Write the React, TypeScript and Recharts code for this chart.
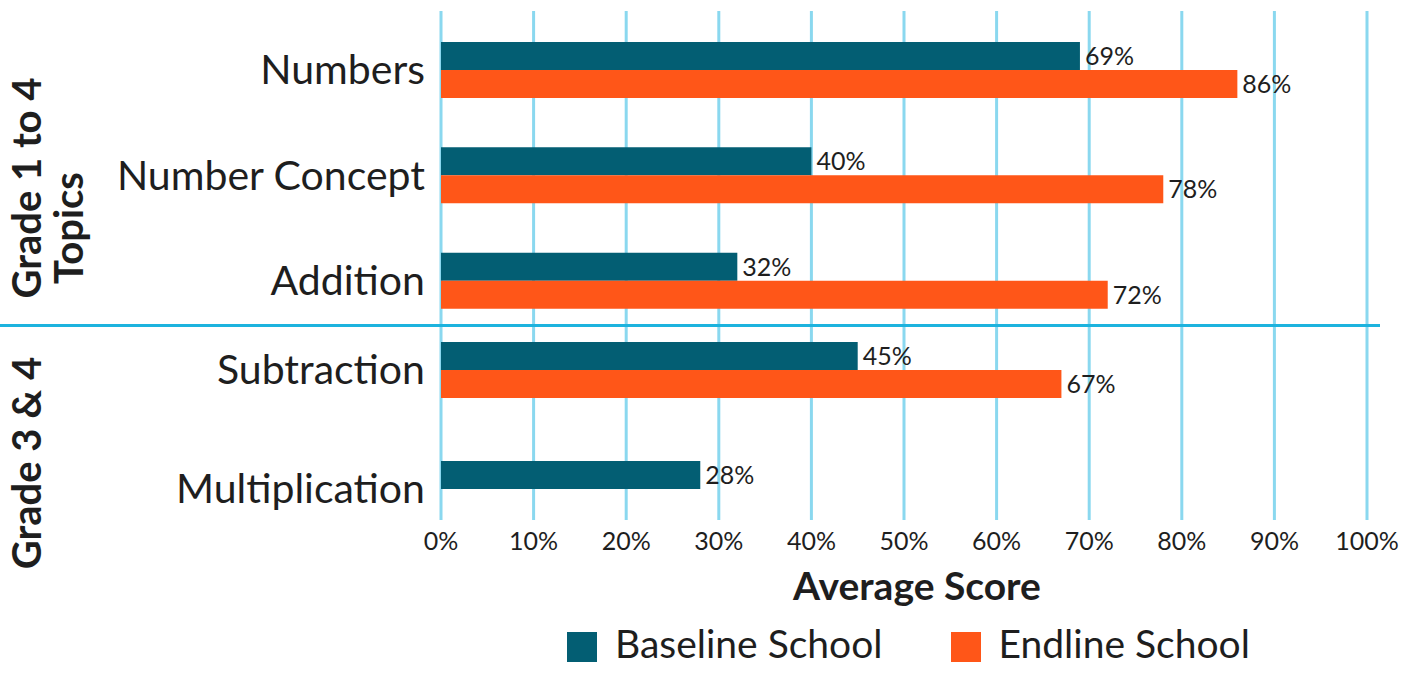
import React from 'react';
import { BarChart, Bar, XAxis, YAxis, CartesianGrid, LabelList, Legend, Label } from 'recharts';

// Grade 1 to 4 topics
const topicsA = ['Numbers', 'Number Concept', 'Addition'];
const baselineA = [69, 40, 32];
const endlineA = [86, 78, 72];

// Grade 3 & 4 topics
const topicsB = ['Subtraction', 'Multiplication'];
const baselineB = [45, 28];
const endlineB: (number | null)[] = [67, null];

const xTicks = [0, 10, 20, 30, 40, 50, 60, 70, 80, 90, 100];

const TEAL = '#035e73';
const ORANGE = '#ff5618';
const GRID = '#8ad8ef';
const SEP = '#1cb3de';
const TEXT = '#1e1e1e';
const FONT = 'Lato, sans-serif';

const W = 1423;
const H = 673;

const dataA = topicsA.map((topic, i) => ({ topic, baseline: baselineA[i], endline: endlineA[i] }));
const dataB = topicsB.map((topic, i) => ({ topic, baseline: baselineB[i], endline: endlineB[i] }));

const pct = (v: any) => (v == null ? '' : `${v}%`);
const barLabelStyle = { fontSize: 25, fill: TEXT, fontFamily: FONT };
const catTick = { fontSize: 41, fill: TEXT, fontFamily: FONT };

const rotated = (text: string, cx: number, cy: number) => (
  <div
    style={{
      position: 'absolute',
      left: cx,
      top: cy,
      transform: 'translate(-50%, -50%) rotate(-90deg)',
      whiteSpace: 'nowrap',
      fontFamily: FONT,
      fontWeight: 700,
      fontSize: 40,
      lineHeight: 1,
      color: TEXT,
    }}
  >
    {text}
  </div>
);

export default function App() {
  return (
    <div style={{ position: 'absolute', left: 0, top: 0, width: W, height: H, background: '#fff', fontFamily: FONT }}>
      {/* upper group + grid, axis and legend */}
      <div style={{ position: 'absolute', left: 0, top: 0 }}>
        <BarChart
          width={W}
          height={H}
          data={dataA}
          layout="vertical"
          margin={{ top: 11, right: 56, bottom: 113, left: 0 }}
          barCategoryGap={25}
          barGap={0}
        >
          <CartesianGrid horizontal={false} stroke={GRID} strokeWidth={3} />
          <XAxis
            type="number"
            domain={[0, 100]}
            ticks={xTicks}
            tickFormatter={(v) => `${v}%`}
            axisLine={false}
            tickLine={false}
            tickMargin={6}
            height={40}
            tick={{ fontSize: 25, fill: TEXT, fontFamily: FONT }}
          >
            <Label
              value="Average Score"
              position="bottom"
              offset={12}
              dx={13}
              style={{ fontSize: 39, fontWeight: 700, fill: TEXT, fontFamily: FONT }}
            />
          </XAxis>
          <YAxis
            type="category"
            dataKey="topic"
            width={441}
            axisLine={false}
            tickLine={false}
            tickMargin={10}
            padding={{ top: 6, bottom: 187 }}
            tick={catTick}
          />
          <Bar dataKey="baseline" name="Baseline School" fill={TEAL} isAnimationActive={false}>
            <LabelList dataKey="baseline" position="right" offset={5} formatter={pct} style={barLabelStyle} />
          </Bar>
          <Bar dataKey="endline" name="Endline School" fill={ORANGE} isAnimationActive={false}>
            <LabelList dataKey="endline" position="right" offset={5} formatter={pct} style={barLabelStyle} />
          </Bar>
          <Legend
            layout="horizontal"
            verticalAlign="middle"
            align="center"
            iconType="square"
            iconSize={30}
            wrapperStyle={{ left: 567, top: 617, width: 'auto', fontFamily: FONT, whiteSpace: 'nowrap' }}
            formatter={(value) => (
              <span
                style={{
                  color: TEXT,
                  fontSize: 39,
                  lineHeight: 1,
                  marginLeft: 14,
                  marginRight: 58,
                  position: 'relative',
                  top: 7,
                }}
              >
                {value}
              </span>
            )}
          />
        </BarChart>
      </div>

      {/* lower group */}
      <div style={{ position: 'absolute', left: 0, top: 0, pointerEvents: 'none' }}>
        <BarChart
          width={W}
          height={H}
          data={dataB}
          layout="vertical"
          margin={{ top: 310, right: 56, bottom: 125, left: 0 }}
          barCategoryGap={32}
          barGap={0}
        >
          <XAxis type="number" domain={[0, 100]} hide />
          <YAxis
            type="category"
            dataKey="topic"
            width={441}
            axisLine={false}
            tickLine={false}
            tickMargin={10}
            tick={catTick}
          />
          <Bar dataKey="baseline" fill={TEAL} isAnimationActive={false}>
            <LabelList dataKey="baseline" position="right" offset={5} formatter={pct} style={barLabelStyle} />
          </Bar>
          <Bar dataKey="endline" fill={ORANGE} isAnimationActive={false}>
            <LabelList dataKey="endline" position="right" offset={5} formatter={pct} style={barLabelStyle} />
          </Bar>
        </BarChart>
      </div>

      {/* separator between topic groups */}
      <div style={{ position: 'absolute', left: 0, top: 324, width: 1380, height: 3, background: SEP }} />

      {rotated('Grade 1 to 4', 26, 188)}
      {rotated('Topics', 68, 228)}
      {rotated('Grade 3 & 4', 26, 463)}
    </div>
  );
}
